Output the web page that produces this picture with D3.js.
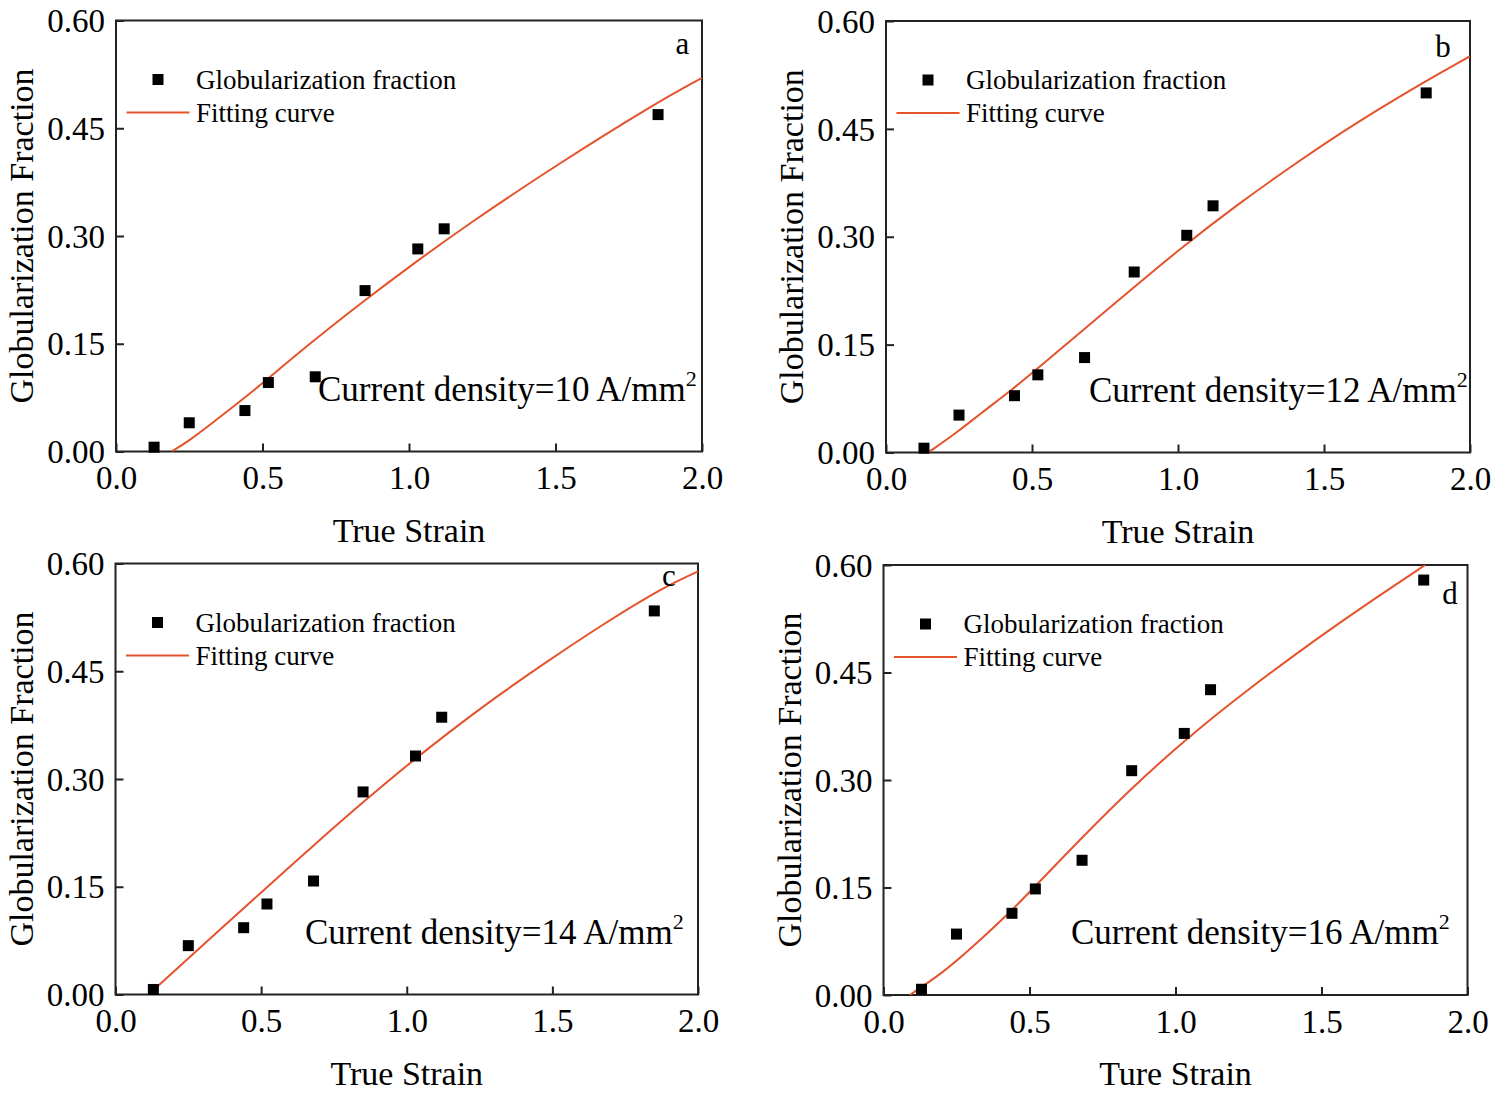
<!DOCTYPE html>
<html>
<head>
<meta charset="utf-8">
<script src="https://cdn.jsdelivr.net/npm/d3@7"></script>
<style>
  body { margin: 0; background: #fff; }
  svg { display: block; }
  text { font-family: "Liberation Serif", "Times New Roman", serif; fill: #000; }
</style>
</head>
<body>
<div id="chart"></div>
<script>
// measured strain values (same for all four current densities)
const strain = [0.13, 0.25, 0.44, 0.52, 0.68, 0.85, 1.03, 1.12, 1.85];

// globularization fraction, one list per panel
const fracA = [0.006, 0.040, 0.057, 0.096, 0.104, 0.224, 0.282, 0.310, 0.469];
const fracB = [0.006, 0.052, 0.079, 0.108, 0.132, 0.251, 0.302, 0.343, 0.500];
const fracC = [0.007, 0.068, 0.093, 0.126, 0.158, 0.282, 0.332, 0.386, 0.534];
const fracD = [0.008, 0.085, 0.114, 0.148, 0.188, 0.313, 0.365, 0.426, 0.579];

// fitting curves
const fitAx = [0.19, 0.25, 0.32, 0.44, 0.50, 0.66, 0.85, 1.00, 1.20, 1.50, 1.85, 2.00];
const fitAy = [0.000, 0.015, 0.037, 0.075, 0.095, 0.150, 0.211, 0.257, 0.316, 0.398, 0.487, 0.520];
const fitBx = [0.145, 0.25, 0.32, 0.44, 0.52, 0.66, 0.85, 1.00, 1.20, 1.42, 1.60, 1.85, 2.00];
const fitBy = [0.000, 0.030, 0.053, 0.090, 0.117, 0.165, 0.230, 0.281, 0.344, 0.407, 0.456, 0.517, 0.551];
const fitCx = [0.113, 0.32, 0.50, 0.67, 0.85, 1.03, 1.20, 1.32, 1.48, 1.66, 1.89, 2.00];
const fitCy = [0.000, 0.076, 0.142, 0.204, 0.268, 0.329, 0.382, 0.418, 0.463, 0.512, 0.569, 0.589];
const fitDx = [0.09, 0.20, 0.30, 0.44, 0.52, 0.68, 0.85, 1.03, 1.22, 1.50, 1.667, 1.855];
const fitDy = [0.000, 0.030, 0.065, 0.118, 0.152, 0.220, 0.289, 0.355, 0.418, 0.502, 0.549, 0.600];

const xTicks = [0, 0.5, 1.0, 1.5, 2.0];
const yTicks = [0, 0.15, 0.30, 0.45, 0.60];
const panelLetters = ["a", "b", "c", "d"];
const densities = [10, 12, 14, 16];
const xTitles = ["True Strain", "True Strain", "True Strain", "Ture Strain"];
const yTitle = "Globularization Fraction";
const legendLabels = ["Globularization fraction", "Fitting curve"];

const curveColor = "#e5532d";

// panel boxes in page pixels
const panels = [
  { left: 116,   top: 20.5, w: 586,   h: 431,   frac: fracA, fx: fitAx, fy: fitAy, lab: [-19.5, 33.5], note: 202 },
  { left: 886,   top: 21,   w: 584,   h: 431.5, frac: fracB, fx: fitBx, fy: fitBy, lab: [-27, 36],     note: 203 },
  { left: 115.5, top: 563.5, w: 582.5, h: 431,  frac: fracC, fx: fitCx, fy: fitCy, lab: [-29, 22.5],   note: 189.5 },
  { left: 883.5, top: 565,  w: 584,   h: 430,   frac: fracD, fx: fitDx, fy: fitDy, lab: [-17.5, 38.5], note: 187.5 }
];

const svg = d3.select("#chart").append("svg")
  .attr("width", 1497)
  .attr("height", 1100);

panels.forEach((p, i) => {
  const g = svg.append("g").attr("transform", `translate(${p.left},${p.top})`);

  const x = d3.scaleLinear().domain([0, 2]).range([0, p.w]);
  const y = d3.scaleLinear().domain([0, 0.6]).range([p.h, 0]);

  g.append("clipPath").attr("id", "clip" + i)
    .append("rect").attr("width", p.w).attr("height", p.h);

  // y axis, ticks pointing in
  const ya = g.append("g")
    .call(d3.axisLeft(y).tickValues(yTicks).tickSizeInner(-8).tickSizeOuter(0)
      .tickPadding(11).tickFormat(d3.format(".2f")));
  ya.select(".domain").remove();
  ya.selectAll("line").attr("stroke", "#222").attr("stroke-width", 2);
  ya.selectAll("text").attr("font-size", 33).style("font-family", '"Liberation Serif", serif').attr("dy", "0.34em");

  // x axis
  const xa = g.append("g").attr("transform", `translate(0,${p.h})`)
    .call(d3.axisBottom(x).tickValues(xTicks).tickSizeInner(-8).tickSizeOuter(0)
      .tickFormat(d3.format(".1f")));
  xa.select(".domain").remove();
  xa.selectAll("line").attr("stroke", "#222").attr("stroke-width", 2);
  xa.selectAll("text").attr("font-size", 33).style("font-family", '"Liberation Serif", serif')
    .attr("dy", null).attr("y", 37.5);

  // frame
  g.append("rect")
    .attr("width", p.w).attr("height", p.h)
    .attr("fill", "none").attr("stroke", "#222").attr("stroke-width", 2);

  // fitting curve
  const fit = p.fx.map((v, k) => [v, p.fy[k]]);
  g.append("path")
    .datum(fit)
    .attr("clip-path", `url(#clip${i})`)
    .attr("fill", "none")
    .attr("stroke", curveColor)
    .attr("stroke-width", 2)
    .attr("d", d3.line().x(d => x(d[0])).y(d => y(d[1])).curve(d3.curveBasis));

  // measured points
  g.selectAll(".pt")
    .data(strain.map((s, k) => [s, p.frac[k]]))
    .enter().append("rect")
    .attr("class", "pt")
    .attr("x", d => x(d[0]) - 5.5)
    .attr("y", d => y(d[1]) - 5.5)
    .attr("width", 11).attr("height", 11)
    .attr("fill", "#000");

  // legend
  g.append("rect").attr("x", 36.5).attr("y", 53.5).attr("width", 11).attr("height", 11).attr("fill", "#000");
  g.append("text").attr("x", 80).attr("y", 68).attr("font-size", 27).text(legendLabels[0]);
  g.append("line").attr("x1", 10.5).attr("x2", 73.5).attr("y1", 92).attr("y2", 92)
    .attr("stroke", curveColor).attr("stroke-width", 2);
  g.append("text").attr("x", 80).attr("y", 101).attr("font-size", 27).text(legendLabels[1]);

  // panel letter
  g.append("text")
    .attr("x", p.w + p.lab[0]).attr("y", p.lab[1])
    .attr("text-anchor", "middle").attr("font-size", 31)
    .text(panelLetters[i]);

  // current density note
  const note = g.append("text")
    .attr("x", p.note).attr("y", p.h - 51)
    .attr("font-size", 35)
    .text(`Current density=${densities[i]} A/mm`);
  note.append("tspan").attr("font-size", 22).attr("dy", -15).text("2");

  // axis titles
  g.append("text")
    .attr("x", p.w / 2).attr("y", p.h + 90)
    .attr("text-anchor", "middle").attr("font-size", 34)
    .text(xTitles[i]);
  g.append("text")
    .attr("transform", `translate(-83,${p.h / 2}) rotate(-90)`)
    .attr("text-anchor", "middle").attr("font-size", 34)
    .text(yTitle);
});
</script>
</body>
</html>
